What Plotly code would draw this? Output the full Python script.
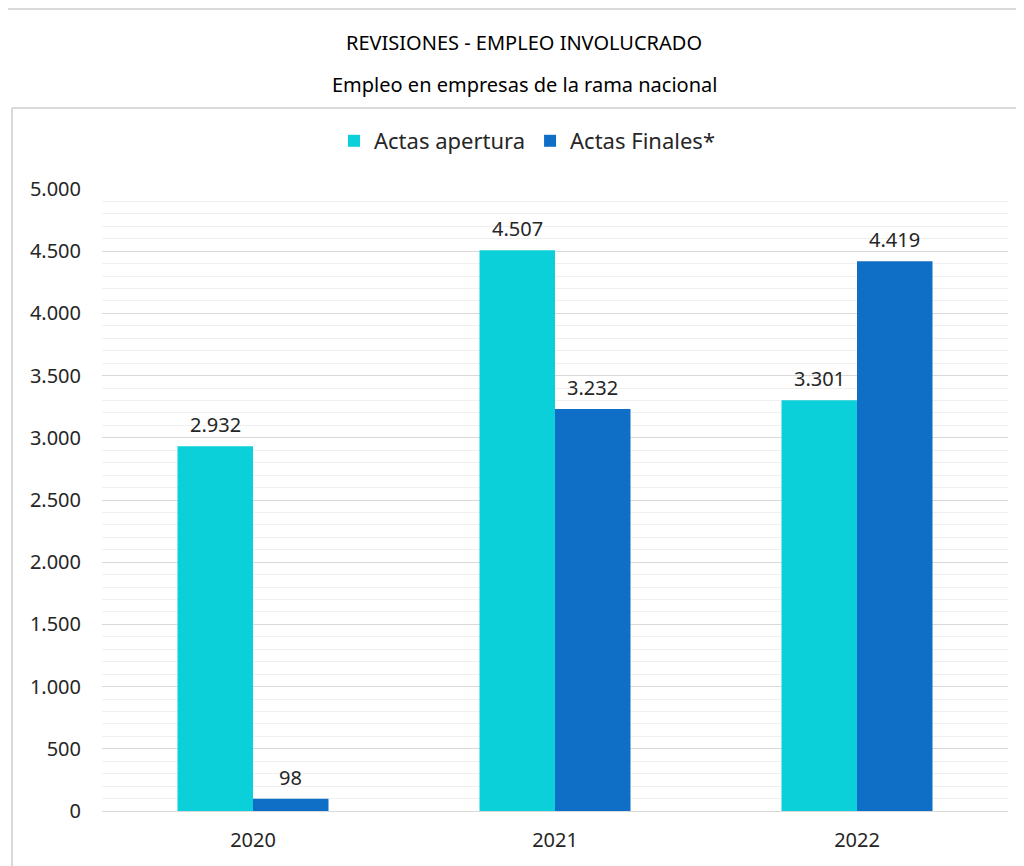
import plotly.graph_objects as go

# datos del grafico
anios = ["2020", "2021", "2022"]
actas_apertura = [2932, 4507, 3301]
actas_finales = [98, 3232, 4419]

titulo = "REVISIONES - EMPLEO INVOLUCRADO"
subtitulo = "Empleo en empresas de la rama nacional"

# la pagina html tiene 8px de margen en el body
OFF = 8
W, H = 1024, 866
L, T = 102 - OFF, 189 - OFF
pw, ph = 906, 622
R, B = W - L - pw, H - T - ph


def px_x(p):
    return (p - OFF - L) / pw


def px_y(p):
    return (T + ph - (p - OFF)) / ph


fuente = "Noto Sans"
gris = "#262626"
ancho_barra = pw / 3 * 0.25

fig = go.Figure()
fig.add_trace(go.Bar(x=anios, y=actas_apertura, name="Actas apertura",
                     marker_color="#0BD0D9", marker_line_width=0))
fig.add_trace(go.Bar(x=anios, y=actas_finales, name="Actas Finales*",
                     marker_color="#0F6FC6", marker_line_width=0))

# etiquetas de datos
for serie, dx in [(actas_apertura, -ancho_barra / 2), (actas_finales, ancho_barra / 2)]:
    for i, v in enumerate(serie):
        fig.add_annotation(x=i, y=v, text=f"{v:,}".replace(",", "."),
                           xshift=dx, yshift=6, yanchor="bottom",
                           showarrow=False, font=dict(size=20, color=gris))

fig.update_layout(
    width=W, height=H,
    margin=dict(l=L, r=R, t=T, b=B),
    paper_bgcolor="white", plot_bgcolor="white",
    separators=",.",
    barmode="group", bargap=0.5, bargroupgap=0,
    font=dict(family=fuente, size=20, color=gris),
    legend=dict(orientation="h", x=px_x(527), xanchor="center",
                y=px_y(141), yanchor="middle",
                font=dict(size=22, color=gris), traceorder="normal"),
    showlegend=True,
)
fig.update_yaxes(range=[0, 5000], dtick=500, tickformat=",d",
                 gridcolor="#d9d9d9", gridwidth=1,
                 minor=dict(dtick=100, showgrid=True, gridcolor="#f0f0f0"),
                 zeroline=True, zerolinecolor="#d9d9d9", zerolinewidth=1,
                 ticks="", ticklabelstandoff=20,
                 tickfont=dict(size=20, color=gris), fixedrange=True)
fig.update_xaxes(type="category", range=[-0.5, 2.5], showgrid=False, ticks="",
                 ticklabelstandoff=15,
                 tickfont=dict(size=20, color=gris), showline=False)

fig.add_annotation(text=titulo, x=px_x(524), y=px_y(42), xref="paper", yref="paper",
                   yanchor="middle", showarrow=False, font=dict(size=20, color="#000000"))
fig.add_annotation(text=subtitulo, x=px_x(524), y=px_y(84), xref="paper", yref="paper",
                   yanchor="middle", showarrow=False, font=dict(size=20, color="#000000"))

# marcos
borde = "#d9d9d9"
fig.add_shape(type="line", xref="paper", yref="paper", x0=px_x(5), x1=px_x(1030),
              y0=px_y(9), y1=px_y(9), line=dict(color=borde, width=2))
fig.add_shape(type="line", xref="paper", yref="paper", x0=px_x(5), x1=px_x(5),
              y0=px_y(9), y1=px_y(880), line=dict(color=borde, width=2))
fig.add_shape(type="line", xref="paper", yref="paper", x0=px_x(12), x1=px_x(1030),
              y0=px_y(108), y1=px_y(108), line=dict(color=borde, width=2))
fig.add_shape(type="line", xref="paper", yref="paper", x0=px_x(12), x1=px_x(12),
              y0=px_y(108), y1=px_y(880), line=dict(color=borde, width=2))

fig.write_html("out.html")
